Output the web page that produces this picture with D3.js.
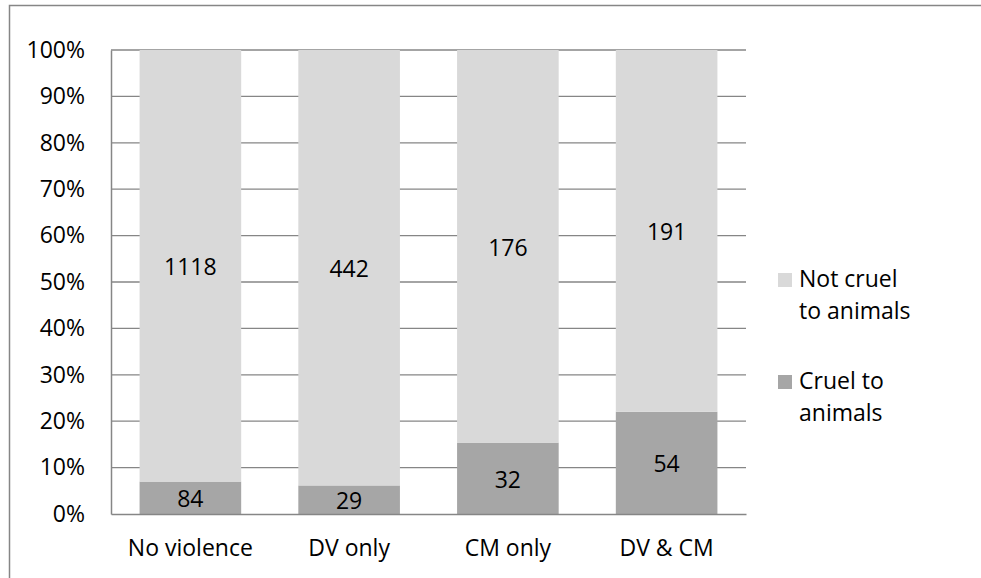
<!DOCTYPE html>
<html>
<head>
<meta charset="utf-8">
<script src="https://cdn.jsdelivr.net/npm/d3@7"></script>
<style>
  html, body { margin: 0; padding: 0; background: #fff; }
  svg { display: block; }
  text { font-family: "Open Sans", "Noto Sans", sans-serif; fill: #000; }
</style>
</head>
<body>
<svg id="chart" width="981" height="578"></svg>
<script>
// ---- data ----
const categories = ["No violence", "DV only", "CM only", "DV & CM"];
const cruelToAnimals = [84, 29, 32, 54];
const notCruelToAnimals = [1118, 442, 176, 191];
const seriesKeys = ["cruel", "notCruel"];
const seriesLabels = [["Cruel to", "animals"], ["Not cruel", "to animals"]];
const yTickValues = [0, 0.1, 0.2, 0.3, 0.4, 0.5, 0.6, 0.7, 0.8, 0.9, 1.0];

// ---- layout ----
const W = 981, H = 578;
const plot = { left: 111, top: 50, right: 746, bottom: 514 };
const colors = { cruel: "#A6A6A6", notCruel: "#D9D9D9" };
const gridColor = "#868686";
const fontSize = 23;

const svg = d3.select("#chart");

// outer chart border (only top and left visible in reference)
svg.append("rect")
  .attr("x", 9.5).attr("y", 5.5)
  .attr("width", 1100).attr("height", 700)
  .attr("fill", "none").attr("stroke", "#868686").attr("stroke-width", 1.5);

const table = categories.map((c, i) => ({
  category: c, cruel: cruelToAnimals[i], notCruel: notCruelToAnimals[i]
}));

const stacked = d3.stack().keys(seriesKeys).offset(d3.stackOffsetExpand)(table);

const x = d3.scaleBand()
  .domain(categories)
  .range([plot.left, plot.right])
  .paddingInner(0.36)
  .paddingOuter(0.18);

const y = d3.scaleLinear().domain([0, 1]).range([plot.bottom, plot.top]);

// gridlines
svg.append("g")
  .selectAll("line")
  .data(yTickValues.filter(v => v > 0))
  .join("line")
  .attr("x1", plot.left).attr("x2", plot.right)
  .attr("y1", d => y(d)).attr("y2", d => y(d))
  .attr("stroke", gridColor).attr("stroke-width", 1.3);

// bars
const layers = svg.append("g")
  .selectAll("g")
  .data(stacked)
  .join("g")
  .attr("fill", d => colors[d.key]);

layers.selectAll("rect")
  .data(d => d)
  .join("rect")
  .attr("x", d => x(d.data.category))
  .attr("width", x.bandwidth())
  .attr("y", d => y(d[1]))
  .attr("height", d => y(d[0]) - y(d[1]));

// data labels
const labels = svg.append("g");
stacked.forEach(layer => {
  labels.selectAll(null)
    .data(layer)
    .join("text")
    .attr("x", d => x(d.data.category) + x.bandwidth() / 2)
    .attr("y", d => (y(d[0]) + y(d[1])) / 2 + 0.36 * fontSize + 1)
    .attr("text-anchor", "middle")
    .style("font-size", fontSize + "px")
    .text(d => d.data[layer.key]);
});

// y axis
const yAxis = svg.append("g")
  .attr("transform", `translate(${plot.left},0)`)
  .call(d3.axisLeft(y).tickValues(yTickValues).tickFormat(d3.format(".0%"))
    .tickSizeInner(0).tickSizeOuter(0).tickPadding(26));
yAxis.select(".domain").attr("stroke", gridColor).attr("stroke-width", 1.5);
yAxis.selectAll("text").style("font-size", fontSize + "px").attr("fill", "#000")
  .style("font-family", '"Open Sans", sans-serif');

// x axis
const xAxis = svg.append("g")
  .attr("transform", `translate(0,${plot.bottom})`)
  .call(d3.axisBottom(x).tickSizeInner(0).tickSizeOuter(0).tickPadding(26));
xAxis.select(".domain").attr("stroke", gridColor).attr("stroke-width", 1.5);
xAxis.selectAll("text").style("font-size", fontSize + "px").attr("fill", "#000")
  .style("font-family", '"Open Sans", sans-serif');

// legend (Not cruel on top)
const legendItems = [
  { key: "notCruel", lines: seriesLabels[1], top: 273 },
  { key: "cruel", lines: seriesLabels[0], top: 375 }
];
const legend = svg.append("g");
legendItems.forEach(it => {
  legend.append("rect")
    .attr("x", 778).attr("y", it.top)
    .attr("width", 14).attr("height", 14)
    .attr("fill", colors[it.key]);
  const t = legend.append("text")
    .attr("x", 799).attr("y", it.top + 14)
    .style("font-size", fontSize + "px");
  it.lines.forEach((ln, i) => {
    t.append("tspan").attr("x", 799).attr("dy", i === 0 ? 0 : 32).text(ln);
  });
});
</script>
</body>
</html>
